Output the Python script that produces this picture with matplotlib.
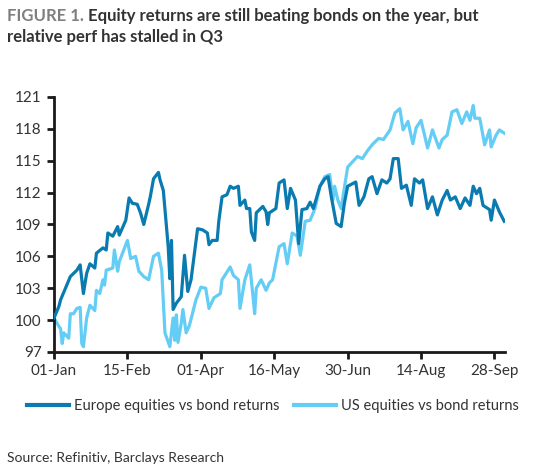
import numpy as np
import pandas as pd
import matplotlib
matplotlib.use("Agg")
import matplotlib.pyplot as plt
import matplotlib.dates as mdates

# days since 01-Jan and index level
eu_days = [0, 3, 4, 10, 14, 16, 18, 20, 22, 25, 26, 30, 32, 33, 36, 39, 40, 44, 46, 48,
           51, 53, 55, 58, 59, 61, 64, 65, 67, 70, 71, 72, 73, 75, 78, 80, 82, 84, 88, 91,
           94, 95, 97, 100, 101, 103, 106, 108, 110, 113, 114, 117, 118, 120, 121, 123, 124, 128, 130, 131,
           132, 136, 138, 141, 143, 145, 148, 150, 152, 155, 157, 159, 163, 166, 168, 170, 173, 176, 178, 180,
           185, 187, 190, 193, 195, 198, 201, 204, 206, 208, 211, 213, 216, 219, 221, 224, 226, 229, 232, 235,
           238, 241, 243, 246, 249, 252, 255, 257, 259, 261, 263, 267, 268, 270, 273, 276]
eu_vals = [100.2, 101.3, 101.9, 104.1, 104.7, 105.2, 102.5, 104.4, 105.3, 104.9, 106.3, 106.8, 106.6, 108.2, 107.9, 108.8, 108.0, 109.4, 111.5, 111.0,
           110.9, 110.1, 109.0, 110.9, 111.6, 113.3, 113.9, 113.2, 112.2, 106.9, 103.9, 107.5, 101.0, 101.6, 102.2, 106.1, 102.7, 103.8, 108.6, 108.5,
           108.2, 107.1, 107.5, 107.5, 109.3, 111.6, 111.8, 112.6, 112.4, 112.6, 110.8, 111.3, 110.5, 110.5, 108.3, 107.5, 110.1, 110.7, 110.2, 109.0,
           110.1, 110.5, 112.9, 113.2, 110.5, 112.4, 111.3, 107.2, 110.4, 110.5, 111.1, 110.5, 112.6, 113.3, 113.5, 111.6, 109.1, 108.8, 111.0, 112.6,
           113.0, 110.8, 111.6, 113.3, 113.5, 111.9, 113.2, 112.9, 113.3, 115.2, 115.2, 112.4, 112.7, 110.8, 113.3, 112.9, 113.2, 110.5, 111.6, 109.9,
           111.3, 112.2, 111.3, 111.6, 110.5, 111.5, 110.8, 112.6, 111.9, 112.4, 110.8, 110.4, 109.4, 111.3, 110.2, 109.3]

us_days = [0, 3, 4, 5, 6, 9, 10, 12, 14, 16, 17, 18, 20, 22, 25, 26, 28, 30, 31, 32,
           36, 37, 39, 40, 45, 47, 50, 52, 55, 58, 61, 64, 66, 68, 71, 73, 74, 75, 76, 78,
           79, 81, 83, 87, 90, 93, 95, 98, 102, 103, 108, 110, 113, 114, 117, 120, 122, 123, 124, 127,
           130, 132, 134, 138, 141, 143, 146, 149, 151, 154, 157, 160, 163, 166, 169, 171, 172, 174, 176, 180,
           186, 189, 192, 195, 199, 202, 206, 209, 212, 214, 217, 220, 222, 225, 229, 232, 236, 238, 241, 244,
           247, 250, 253, 255, 257, 258, 261, 264, 267, 268, 271, 273, 276]
us_vals = [100.2, 99.4, 99.2, 97.8, 98.8, 98.3, 100.6, 100.6, 101.1, 101.2, 97.8, 97.5, 100.2, 101.4, 100.9, 102.8, 102.5, 103.8, 103.3, 104.7,
           104.9, 106.6, 104.6, 105.5, 107.5, 105.8, 106.0, 104.6, 104.1, 103.8, 106.0, 106.3, 104.7, 98.8, 97.5, 100.2, 98.1, 100.5, 97.9, 99.7,
           101.0, 98.8, 99.5, 101.9, 103.1, 103.0, 101.1, 102.1, 102.5, 103.8, 105.0, 104.2, 103.8, 101.1, 103.8, 105.2, 102.2, 100.6, 103.0, 103.8,
           102.8, 103.5, 103.8, 106.9, 107.2, 105.3, 108.2, 107.9, 106.1, 109.3, 109.4, 110.5, 112.6, 113.5, 113.7, 111.3, 112.6, 111.3, 110.5, 114.4,
           115.4, 115.2, 115.9, 116.5, 117.1, 117.0, 117.9, 119.5, 119.9, 117.9, 118.7, 116.6, 118.1, 118.8, 116.2, 117.9, 116.2, 117.0, 117.4, 119.6,
           119.8, 118.5, 119.6, 118.8, 120.2, 119.0, 119.0, 116.5, 117.9, 116.3, 117.4, 117.9, 117.6]

start = pd.Timestamp("2021-01-01")
eu_dates = start + pd.to_timedelta(eu_days, unit="D")
us_dates = start + pd.to_timedelta(us_days, unit="D")

tick_dates = pd.date_range(start, periods=7, freq="45D")
y_ticks = np.arange(97, 122, 3)

dark_blue = "#0a7bb0"
light_blue = "#64cdf6"
text_col = "#333333"

plt.rcParams['font.family'] = ['Lato', 'DejaVu Sans']

fig = plt.figure(figsize=(5.35, 4.74), dpi=100)
ax = fig.add_axes([0.101, 0.2574, 0.843, 0.538])

ax.plot(eu_dates, eu_vals, color=dark_blue, lw=2.3, label="Europe equities vs bond returns", zorder=3)
ax.plot(us_dates, us_vals, color=light_blue, lw=2.3, label="US equities vs bond returns", zorder=2)

ax.set_xlim(start, start + pd.Timedelta(days=276.5))
ax.set_ylim(97, 121)
ax.set_yticks(y_ticks)
ax.set_xticks(tick_dates)
ax.xaxis.set_major_formatter(mdates.DateFormatter("%d-%b"))

for side in ["top", "right"]:
    ax.spines[side].set_visible(False)
for side in ["left", "bottom"]:
    ax.spines[side].set_linewidth(2)
    ax.spines[side].set_color("#1a1a1a")
ax.tick_params(axis="both", length=5, width=2, color="#1a1a1a",
               labelsize=11, labelcolor=text_col, pad=4)

leg = fig.legend(loc="center", bbox_to_anchor=(0.51, 1 - 406 / 474), ncol=2, frameon=False,
                 fontsize=10.5, handlelength=2.9, handletextpad=0.3, columnspacing=1.0,
                 labelcolor=text_col)
for line in leg.get_lines():
    line.set_linewidth(3)

# title in two colours
t1 = fig.text(7 / 535, 1 - 21 / 474, "FIGURE 1.", fontsize=12, fontweight="bold",
              color="#7f7f7f", va="baseline")
fig.canvas.draw()
bb = t1.get_window_extent()
x_next = (bb.x1 + 4) / fig.bbox.width
fig.text(x_next, 1 - 21 / 474, "Equity returns are still beating bonds on the year, but",
         fontsize=12, fontweight="bold", color=text_col, va="baseline")
fig.text(7 / 535, 1 - 42 / 474, "relative perf has stalled in Q3", fontsize=12,
         fontweight="bold", color=text_col, va="baseline")

fig.text(7 / 535, 1 - 462 / 474, "Source: Refinitiv, Barclays Research", fontsize=10,
         color=text_col, va="baseline")

fig.savefig("out.png", dpi=100)
